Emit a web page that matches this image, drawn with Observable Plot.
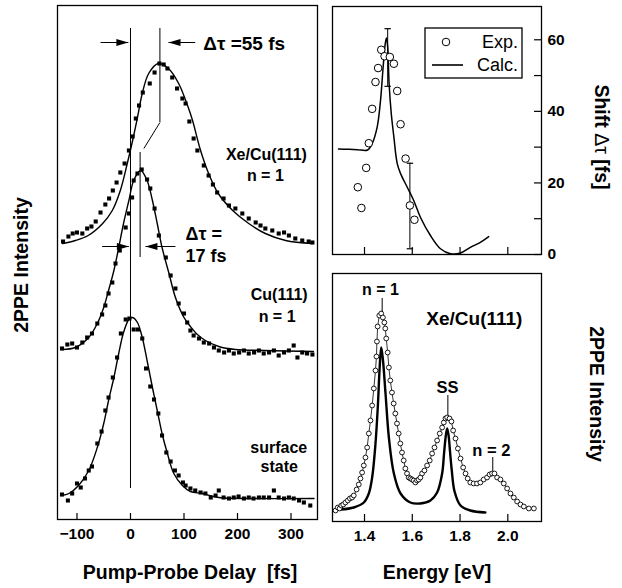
<!DOCTYPE html>
<html><head><meta charset="utf-8">
<script src="https://cdn.jsdelivr.net/npm/d3@7"></script>
<script src="https://cdn.jsdelivr.net/npm/@observablehq/plot@0.6"></script>
<style>
body{margin:0;background:#fff;}
#wrap{position:relative;width:622px;height:588px;background:#fff;font-family:"Liberation Sans",Arial,Helvetica,sans-serif;color:#000;overflow:hidden}
#wrap > svg, #wrap > div{position:absolute}
.ttl{position:absolute;font-weight:bold;font-size:19.5px;white-space:pre;line-height:1}
</style></head><body><div id="wrap"></div>
<script>
// ---------- Left panel: 2PPE intensity vs pump-probe delay (fs, arbitrary units with offsets) ----------
const delayTicks = [-100, 0, 100, 200, 300];
const xeFit = [[-127,276],[-103,279],[-79,284],[-52,296],[-34,309],[-19,329],[-6,356],[4,379],[13,402],[22,426],[34,446],[52,456],[71,451],[90,436],[108,412],[116,399],[131,369],[146,346],[164,326],[191,309],[221,296],[252,286],[290,279],[340,276]];
const xeDots = [[-126,278],[-116,283],[-108,286],[-100,287],[-90,286],[-81,291],[-73,293],[-65,298],[-56,307],[-47,315],[-40,321],[-33,329],[-26,337],[-19,347],[-11,356],[-3,369],[4,383],[10,401],[16,414],[23,427],[36,436],[45,447],[54,456],[62,455],[69,451],[78,442],[87,431],[97,421],[103,416],[110,398],[118,381],[125,369],[137,354],[146,344],[154,335],[162,327],[174,321],[184,314],[196,311],[209,306],[221,301],[234,297],[243,294],[252,291],[265,289],[277,286],[287,287],[296,284],[308,281],[321,279],[333,278],[340,277]];
const cuFit = [[-128,170],[-103,172],[-78,182],[-62,196],[-50,212],[-41,229],[-31,249],[-22,272],[-13,296],[-3,319],[6,339],[19,349],[31,339],[41,319],[50,296],[59,272],[72,246],[84,222],[100,202],[112,193],[125,185],[140,179],[165,173],[196,170],[250,169],[342,168]];
const cuDots = [[-128,171],[-118,175],[-109,176],[-100,172],[-90,177],[-81,182],[-72,186],[-62,196],[-53,205],[-47,214],[-41,226],[-34,237],[-28,256],[-20,269],[-9,292],[-3,306],[3,322],[6,339],[13,346],[21,350],[31,340],[37,331],[45,311],[53,284],[66,262],[75,244],[84,231],[90,216],[100,206],[106,197],[112,189],[118,184],[128,181],[137,177],[147,176],[156,172],[165,169],[175,167],[184,169],[193,166],[203,167],[212,169],[221,166],[231,167],[240,169],[249,166],[259,167],[268,169],[277,164],[287,167],[296,169],[305,174],[312,162],[321,167],[330,166],[340,165]];
const ssFit = [[-129,24],[-115,26],[-97,34],[-78,49],[-62,72],[-50,96],[-41,119],[-31,142],[-22,166],[-13,187],[-3,200],[4,202],[13,197],[22,182],[31,159],[41,132],[50,109],[59,86],[69,66],[81,46],[97,34],[112,28],[134,26],[165,22],[228,21],[343,21]];
const ssDots = [[-128,25],[-117,19],[-109,26],[-100,36],[-93,32],[-85,41],[-78,49],[-72,53],[-62,76],[-54,88],[-47,109],[-41,122],[-33,142],[-25,162],[-18,186],[-9,200],[-2,201],[6,190],[14,190],[22,181],[29,151],[37,133],[44,120],[52,106],[59,84],[67,67],[75,58],[83,49],[90,44],[98,37],[103,34],[112,31],[121,29],[131,27],[140,26],[150,22],[159,24],[165,29],[174,22],[184,21],[193,22],[202,23],[212,21],[221,22],[230,21],[240,22],[249,22],[259,22],[268,29],[277,22],[287,21],[296,22],[305,21],[315,19],[324,17],[336,14]];
// guide lines [delay, from, to]
const guideLines = [[0,31,491],[55,397,491],[18,262,367]];
const guideLink = [[55,397,25,371]];
// arrows [from delay, to delay, level]
const arrows = [[-56,-4,477],[121,71,477],[-53,-3,273],[84,28,273]];
const leftNotes = [
  {t:136, v:476, s:"Δτ =55 fs", size:19, anchor:"start"},
  {t:103, v:285, s:"Δτ =", size:18, anchor:"start"},
  {t:103, v:263, s:"17 fs", size:18, anchor:"start"},
  {t:254, v:365, s:"Xe/Cu(111)", size:16, anchor:"middle"},
  {t:252, v:344, s:"n = 1", size:16, anchor:"middle"},
  {t:278, v:225, s:"Cu(111)", size:16, anchor:"middle"},
  {t:274, v:203, s:"n = 1", size:16, anchor:"middle"},
  {t:277, v:72, s:"surface", size:16, anchor:"middle"},
  {t:278, v:53, s:"state", size:16, anchor:"middle"}
];

// ---------- Top right: shift Δτ vs energy ----------
const energyTicks = [1.4, 1.6, 1.8, 2.0];
const shiftTicks = [0, 20, 40, 60];
const shiftMinor = [0, 10, 20, 30, 40, 50, 60];
const shiftCalc = [[1.291,29.5],[1.330,29.4],[1.370,29.3],[1.413,29.2],[1.432,31],[1.453,35.6],[1.467,43],[1.478,52.4],[1.487,59],[1.492,60.5],[1.497,58],[1.503,47.7],[1.512,39.4],[1.523,32.8],[1.537,25.4],[1.551,22.6],[1.579,18.8],[1.606,15.1],[1.634,10.4],[1.676,5.3],[1.718,1.6],[1.760,0.2],[1.802,0.4],[1.843,2],[1.885,3.4],[1.920,5]];
const shiftExp = [[1.372,18.8],[1.387,13],[1.407,24.2],[1.418,31.1],[1.432,40.7],[1.446,48.2],[1.457,52.1],[1.470,57.2],[1.484,55.4],[1.506,55.2],[1.523,53.3],[1.537,45.7],[1.551,36.4],[1.572,26.8],[1.590,13.7],[1.609,9.7]];
const shiftErr = [[1.497,47,63.1],[1.590,1.6,25.5]];

// ---------- Bottom right: 2PPE spectrum vs energy ----------
const specExp = [[1.279,11],[1.288,14],[1.296,13],[1.303,16],[1.311,17],[1.320,19],[1.330,21],[1.339,23],[1.348,24],[1.355,26],[1.367,32],[1.376,37],[1.383,43],[1.390,49],[1.397,56],[1.404,64],[1.411,74],[1.418,88],[1.425,101],[1.432,116],[1.439,133],[1.446,151],[1.450,165],[1.452,180],[1.455,195],[1.462,206],[1.470,208],[1.477,204],[1.483,199],[1.487,193],[1.491,183],[1.497,169],[1.502,154],[1.508,141],[1.515,129],[1.522,118],[1.529,108],[1.536,98],[1.543,88],[1.550,78],[1.557,69],[1.564,61],[1.571,53],[1.578,48],[1.585,44],[1.592,43],[1.599,42],[1.606,41],[1.613,39],[1.620,41],[1.627,42],[1.634,44],[1.641,48],[1.651,51],[1.662,56],[1.673,61],[1.683,68],[1.693,74],[1.704,81],[1.715,88],[1.725,94],[1.732,99],[1.739,103],[1.746,104],[1.756,103],[1.764,100],[1.771,91],[1.781,83],[1.791,73],[1.802,63],[1.813,54],[1.823,48],[1.832,43],[1.843,39],[1.857,38],[1.871,38],[1.885,39],[1.899,42],[1.913,44],[1.924,47],[1.934,48],[1.944,48],[1.955,44],[1.969,42],[1.983,38],[1.997,33],[2.011,28],[2.025,24],[2.039,20],[2.053,17],[2.067,15],[2.088,13],[2.109,13]];
const specCalc = [[1.300,12],[1.355,14],[1.397,19],[1.418,28],[1.432,44],[1.446,78],[1.456,116],[1.463,152],[1.470,174],[1.477,162],[1.488,128],[1.502,84],[1.523,48],[1.551,28],[1.592,19],[1.634,18],[1.676,21],[1.704,29],[1.725,48],[1.733,68],[1.740,85],[1.746,93],[1.752,86],[1.758,70],[1.765,52],[1.777,30],[1.802,16],[1.843,11],[1.906,9]];
const peakMarks = [[1.474,209,223],[1.749,106,126],[1.937,50,64]];
const specNotes = [
  {e:1.467, v:232, s:"n = 1", size:16},
  {e:1.860, v:203, s:"Xe/Cu(111)", size:19},
  {e:1.747, v:134, s:"SS", size:16.5},
  {e:1.931, v:71, s:"n = 2", size:16.5}
];

// ---------- drawing ----------
const wrap = document.getElementById("wrap");
const baseStyle = {fontFamily:"'Liberation Sans', Arial, Helvetica, sans-serif", fontSize:"15.5px", fontWeight:"bold", color:"black", background:"none", overflow:"visible"};
const headR = {draw(c){ c.moveTo(0,0); c.lineTo(-12,-3.6); c.lineTo(-12,3.6); c.closePath(); }};
const headL = {draw(c){ c.moveTo(0,0); c.lineTo(12,-3.6); c.lineTo(12,3.6); c.closePath(); }};
const capSym = {draw(c){ c.moveTo(-3.2,0); c.lineTo(3.2,0); }};

function place(el, left, top){ el.style.left = left + "px"; el.style.top = top + "px"; wrap.appendChild(el); }

// Left panel
const L = {w:326, h:588, ml:57, mr:9, mt:5, mb:69};
const leftPlot = Plot.plot({
  width:L.w, height:L.h, marginLeft:L.ml, marginRight:L.mr, marginTop:L.mt, marginBottom:L.mb,
  style: baseStyle,
  x:{domain:[-136.4, 349.5]},
  y:{domain:[0, 514], axis:null},
  marks:[
    Plot.frame({stroke:"black", strokeWidth:1.3}),
    Plot.ruleX(delayTicks, {insetTop: L.h-L.mt-L.mb-6, stroke:"black", strokeWidth:1.2}),
    Plot.axisX(delayTicks, {tickSize:0, tickPadding:8, fontSize:15.5, label:null}),
    Plot.ruleX(guideLines, {x:d=>d[0], y1:d=>d[1], y2:d=>d[2], stroke:"black", strokeWidth:1}),
    Plot.link(guideLink, {x1:d=>d[0], y1:d=>d[1], x2:d=>d[2], y2:d=>d[3], stroke:"black", strokeWidth:1}),
    Plot.link(arrows, {x1:d=>d[0], x2:d=>d[1], y1:d=>d[2], y2:d=>d[2], stroke:"black", strokeWidth:1}),
    Plot.dot(arrows.filter(d=>d[1]>d[0]), {x:d=>d[1], y:d=>d[2], symbol:headR, fill:"black", stroke:null}),
    Plot.dot(arrows.filter(d=>d[1]<d[0]), {x:d=>d[1], y:d=>d[2], symbol:headL, fill:"black", stroke:null}),
    Plot.line(xeFit, {x:d=>d[0], y:d=>d[1], curve:"catmull-rom", stroke:"black", strokeWidth:1.4}),
    Plot.line(cuFit, {x:d=>d[0], y:d=>d[1], curve:"catmull-rom", stroke:"black", strokeWidth:1.4}),
    Plot.line(ssFit, {x:d=>d[0], y:d=>d[1], curve:"catmull-rom", stroke:"black", strokeWidth:1.4}),
    Plot.dot(xeDots, {x:d=>d[0], y:d=>d[1], symbol:"square", r:2.3, fill:"black", stroke:null}),
    Plot.dot(cuDots, {x:d=>d[0], y:d=>d[1], symbol:"square", r:2.3, fill:"black", stroke:null}),
    Plot.dot(ssDots, {x:d=>d[0], y:d=>d[1], symbol:"square", r:2.3, fill:"black", stroke:null}),
    ...leftNotes.map(n => Plot.text([n], {x:"t", y:"v", text:"s", fontSize:n.size, textAnchor:n.anchor, fontWeight:"bold", fill:"black"}))
  ]
});
place(leftPlot, 0, 0);

// Top right panel
const T = {w:296, h:262, ml:6, mr:81, mt:6, mb:8};
const topPlot = Plot.plot({
  width:T.w, height:T.h, marginLeft:T.ml, marginRight:T.mr, marginTop:T.mt, marginBottom:T.mb,
  style: baseStyle,
  x:{domain:[1.266, 2.141], axis:null},
  y:{domain:[0, 69.3]},
  marks:[
    Plot.frame({stroke:"black", strokeWidth:1.3}),
    Plot.ruleY(shiftMinor, {insetLeft: T.w-T.ml-T.mr-7, stroke:"black", strokeWidth:1.2}),
    Plot.ruleX(energyTicks, {insetTop: T.h-T.mt-T.mb-7, stroke:"black", strokeWidth:1.2}),
    Plot.axisY(shiftTicks, {anchor:"right", tickSize:0, tickPadding:6, fontSize:15.5, label:null}),
    Plot.line(shiftCalc, {x:d=>d[0], y:d=>d[1], curve:"catmull-rom", stroke:"black", strokeWidth:1.5}),
    Plot.ruleX(shiftErr, {x:d=>d[0], y1:d=>d[1], y2:d=>d[2], stroke:"black", strokeWidth:1}),
    Plot.dot(shiftErr, {x:d=>d[0], y:d=>d[1], symbol:capSym, stroke:"black", strokeWidth:1.2}),
    Plot.dot(shiftErr, {x:d=>d[0], y:d=>d[2], symbol:capSym, stroke:"black", strokeWidth:1.2}),
    Plot.dot(shiftExp, {x:d=>d[0], y:d=>d[1], r:3.8, fill:"white", stroke:"black", strokeWidth:1})
  ]
});
place(topPlot, 326, 0);

// Bottom right panel
const B = {w:296, h:326, ml:6, mr:81, mt:11, mb:67};
const botPlot = Plot.plot({
  width:B.w, height:B.h, marginLeft:B.ml, marginRight:B.mr, marginTop:B.mt, marginBottom:B.mb,
  style: baseStyle,
  x:{domain:[1.266, 2.141]},
  y:{domain:[0, 248], axis:null},
  marks:[
    Plot.frame({stroke:"black", strokeWidth:1.3}),
    Plot.ruleX(energyTicks, {insetTop: B.h-B.mt-B.mb-7, stroke:"black", strokeWidth:1.2}),
    Plot.axisX(energyTicks, {tickSize:0, tickPadding:8, fontSize:15.5, tickFormat:d3.format(".1f"), label:null}),
    Plot.line(specCalc, {x:d=>d[0], y:d=>d[1], curve:"catmull-rom", stroke:"black", strokeWidth:2.4}),
    Plot.line(specExp, {x:d=>d[0], y:d=>d[1], stroke:"black", strokeWidth:0.8}),
    Plot.dot(specExp, {x:d=>d[0], y:d=>d[1], r:2.4, fill:"white", stroke:"black", strokeWidth:0.9}),
    Plot.ruleX(peakMarks, {x:d=>d[0], y1:d=>d[1], y2:d=>d[2], stroke:"black", strokeWidth:1}),
    ...specNotes.map(n => Plot.text([n], {x:"e", y:"v", text:"s", fontSize:n.size, fontWeight:"bold", fill:"black"}))
  ]
});
place(botPlot, 326, 262);

// Legend of the top right panel
const legend = document.createElement("div");
legend.innerHTML = `<svg width="100" height="54" style="overflow:visible">
  <rect x="1" y="1" width="97" height="50" fill="white" stroke="black" stroke-width="1.3"/>
  <circle cx="22" cy="15" r="3.8" fill="white" stroke="black" stroke-width="1"/>
  <text x="94" y="15" text-anchor="end" dominant-baseline="central" font-size="18" font-family="'Liberation Sans', Arial, sans-serif">Exp.</text>
  <line x1="8" x2="39" y1="38" y2="38" stroke="black" stroke-width="1.6"/>
  <text x="94" y="38" text-anchor="end" dominant-baseline="central" font-size="18" font-family="'Liberation Sans', Arial, sans-serif">Calc.</text>
</svg>`;
place(legend, 424, 27);

// Axis titles
function title(text, cx, cy, rot){
  const d = document.createElement("div");
  d.className = "ttl";
  d.innerHTML = text;
  d.style.left = cx + "px"; d.style.top = cy + "px";
  d.style.transform = `translate(-50%,-50%) rotate(${rot}deg)`;
  wrap.appendChild(d);
}
title("Pump-Probe Delay  [fs]", 190, 573, 0);
title("Energy [eV]", 437, 573, 0);
title("2PPE Intensity", 22, 265, -90);
title("Shift <span style=\"font-weight:normal\">Δτ</span> [fs]", 601, 137, 90);
title("2PPE Intensity", 596, 394, 90);
</script></body></html>
